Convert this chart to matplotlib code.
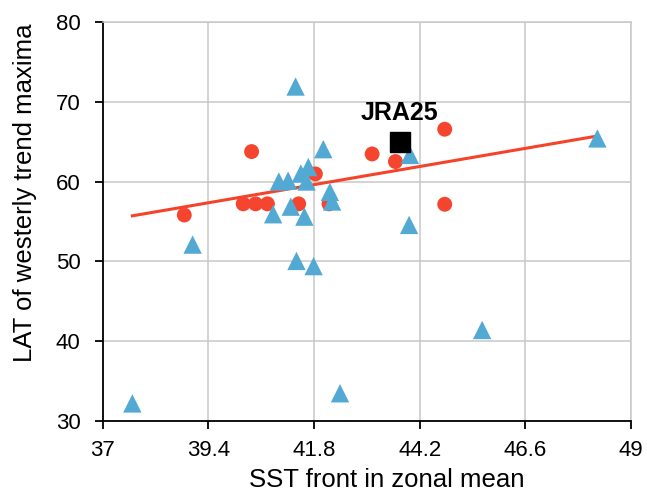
import numpy as np
import matplotlib
matplotlib.use("Agg")
import matplotlib.pyplot as plt

plt.rcParams['font.family'] = ['Liberation Sans', 'DejaVu Sans']

# circles (red)
red_x = [38.85, 40.38, 40.19, 40.47, 40.74, 41.45, 41.83, 42.14, 43.12, 43.65, 44.77, 44.77]
red_y = [55.8, 63.75, 57.2, 57.2, 57.2, 57.2, 60.95, 57.2, 63.45, 62.5, 66.55, 57.15]

# triangles (blue)
blue_x = [37.67, 39.04, 40.87, 41.0, 41.21, 41.27, 41.38, 41.4, 41.5, 41.58, 41.63,
          41.67, 41.79, 42.01, 42.16, 42.21, 42.39, 43.96, 43.98, 45.62, 48.24]
blue_y = [32.2, 52.1, 55.9, 60.0, 60.1, 56.85, 71.9, 50.05, 61.0, 55.6, 60.0,
          61.8, 49.4, 64.05, 58.7, 57.5, 33.47, 54.56, 63.33, 41.4, 65.4]

# reanalysis point
jra_x, jra_y = 43.75, 65.0

# trend line end points
trend_x = [37.67, 48.24]
trend_y = [55.7, 65.7]

xticks = [37, 39.4, 41.8, 44.2, 46.6, 49]
yticks = [30, 40, 50, 60, 70, 80]

fig = plt.figure(figsize=(6.47, 4.97), dpi=100)
ax = fig.add_axes([0.159, 0.153, 0.816, 0.803])

ax.plot(trend_x, trend_y, color='#F5432A', lw=2.2, zorder=2)
ax.scatter(red_x, red_y, s=115, marker='o', color='#F5452E', edgecolors='none', zorder=3)
ax.scatter(blue_x, blue_y, s=175, marker='^', color='#52A9D4', edgecolors='none', zorder=4)
ax.scatter([jra_x], [jra_y], s=190, marker='s', color='black', zorder=5)
ax.text(jra_x, jra_y + 3.6, 'JRA25', ha='center', va='center',
        fontsize=18, fontweight='bold', zorder=6)

ax.set_xlim(37, 49)
ax.set_ylim(30, 80)
ax.set_xticks(xticks)
ax.set_xticklabels([f'{t:g}' for t in xticks])
ax.set_yticks(yticks)
ax.grid(True, color='#C8C8C8', lw=1.1)
ax.set_axisbelow(True)

for s in ['top', 'right']:
    ax.spines[s].set_color('#C8C8C8')
    ax.spines[s].set_linewidth(1.1)
for s in ['left', 'bottom']:
    ax.spines[s].set_color('black')
    ax.spines[s].set_linewidth(1.3)

ax.tick_params(axis='both', direction='out', length=6, width=1.3, labelsize=16)
ax.tick_params(axis='y', pad=10)
ax.tick_params(axis='x', pad=8)
ax.set_xlabel('SST front in zonal mean', fontsize=18.5)
ax.set_ylabel('LAT of westerly trend maxima', fontsize=18.5)
ax.xaxis.set_label_coords(0.538, -0.118)
ax.yaxis.set_label_coords(-0.125, 0.571)

fig.savefig('out.png', dpi=100)
